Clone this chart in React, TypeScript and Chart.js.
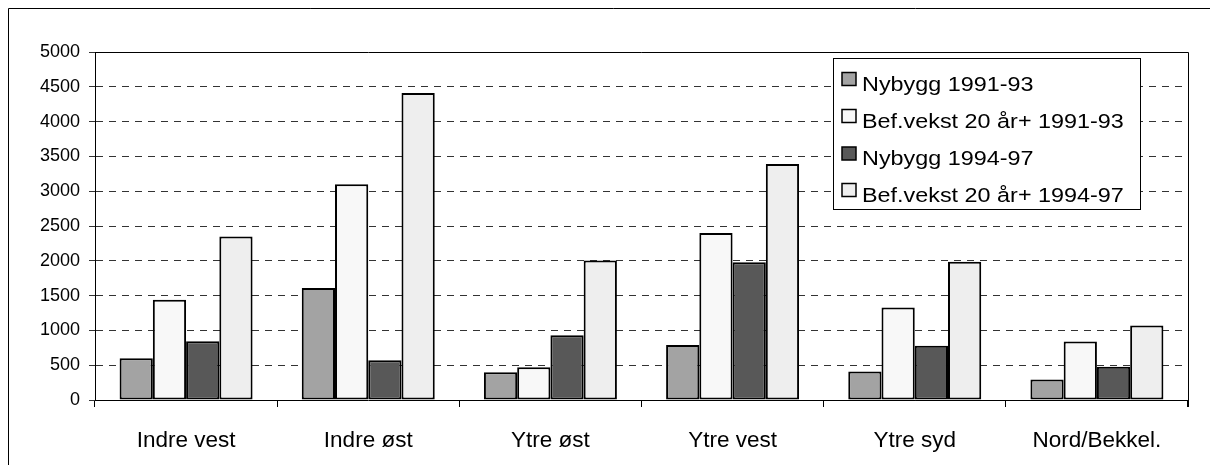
import React, { useEffect, useRef } from "react";
import { Chart, registerables } from "chart.js";

Chart.register(...registerables);

const categories = ["Indre vest", "Indre øst", "Ytre øst", "Ytre vest", "Ytre syd", "Nord/Bekkel."];
const seriesLabels = ["Nybygg 1991-93", "Bef.vekst 20 år+ 1991-93", "Nybygg 1994-97", "Bef.vekst 20 år+ 1994-97"];
const nybygg9193 = [600, 1610, 400, 790, 410, 295];
const bef9193 = [1440, 3100, 470, 2400, 1330, 840];
const nybygg9497 = [845, 570, 930, 1980, 780, 477];
const bef9497 = [2350, 4410, 2005, 3390, 1985, 1070];
const seriesColors = ["#a3a3a3", "#f8f8f8", "#585858", "#eeeeee"];

const FONT = "'Liberation Sans', Arial, Helvetica, sans-serif";

const framePlugin = {
  id: "framePlugin",
  afterDraw(chart: any) {
    const { ctx, chartArea } = chart;
    ctx.save();
    ctx.strokeStyle = "#000";
    ctx.lineWidth = 1;
    ctx.beginPath();
    ctx.moveTo(0.5, chart.height);
    ctx.lineTo(0.5, 0.5);
    ctx.lineTo(chart.width, 0.5);
    ctx.stroke();
    ctx.beginPath();
    ctx.moveTo(chartArea.left, Math.round(chartArea.top) + 0.5);
    ctx.lineTo(Math.round(chartArea.right) + 0.5, Math.round(chartArea.top) + 0.5);
    ctx.lineTo(Math.round(chartArea.right) + 0.5, chartArea.bottom + 7);
    ctx.stroke();

    const bx = 825, by = 50, bw = 307, bh = 151;
    ctx.fillStyle = "#fff";
    ctx.fillRect(bx, by, bw, bh);
    ctx.strokeRect(bx + 0.5, by + 0.5, bw, bh);
    const markerCenters = [71, 108, 145.5, 182];
    const baselines = [83, 119.7, 157, 193.7];
    ctx.textBaseline = "alphabetic";
    ctx.textAlign = "left";
    seriesLabels.forEach((lab, i) => {
      const my = markerCenters[i];
      ctx.fillStyle = seriesColors[i];
      ctx.fillRect(834, my - 6.5, 14, 13);
      ctx.lineWidth = 1.5;
      ctx.strokeStyle = "#000";
      ctx.strokeRect(834, my - 6.5, 14, 13);
      ctx.save();
      ctx.translate(854, baselines[i]);
      ctx.scale(1.14, 1);
      ctx.font = `20.5px ${FONT}`;
      ctx.fillStyle = "#000";
      ctx.fillText(lab, 0, 0);
      ctx.restore();
    });
    ctx.restore();
  },
};

export default function App() {
  const ref = useRef<HTMLCanvasElement>(null);
  useEffect(() => {
    if (!ref.current) return;
    const data = [nybygg9193, bef9193, nybygg9497, bef9497];
    const chart = new Chart(ref.current, {
      type: "bar",
      data: {
        labels: categories,
        datasets: data.map((d, i) => ({
          label: seriesLabels[i],
          data: d,
          backgroundColor: seriesColors[i],
          borderColor: "#000",
          borderWidth: 2,
          borderSkipped: false,
          inflateAmount: 0,
          barPercentage: 1,
          categoryPercentage: 0.73,
        })),
      },
      options: {
        animation: false,
        responsive: false,
        maintainAspectRatio: false,
        events: [],
        datasets: { bar: { barPercentage: 1, categoryPercentage: 0.73 } },
        layout: { padding: { left: 0, right: 30, top: 44, bottom: 0 } },
        plugins: { legend: { display: false }, tooltip: { enabled: false }, title: { display: false } },
        scales: {
          x: {
            grid: { display: true, drawOnChartArea: false, drawTicks: true, tickLength: 7, color: "#000", offset: true },
            border: { display: true, color: "#000", width: 1 },
            ticks: { color: "#000", font: { family: FONT, size: 22.5 }, padding: 20, maxRotation: 0 },
            afterFit: (s: any) => { s.height = 65; },
          },
          y: {
            min: 0,
            max: 5000,
            grid: { color: "#333", lineWidth: 1, drawTicks: true, tickLength: 6 },
            border: { display: true, color: "#000", width: 1, dash: [7, 6] },
            ticks: { stepSize: 500, color: "#000", font: { family: FONT, size: 18 }, padding: 9, callback: (v: any) => String(v) },
            afterFit: (s: any) => { s.width = 87; },
          },
        },
      },
      plugins: [framePlugin],
    });
    return () => chart.destroy();
  }, []);
  return (
    <div>
      <canvas ref={ref} width={1210} height={457} style={{ display: "block", width: 1210, height: 457 }} />
    </div>
  );
}
